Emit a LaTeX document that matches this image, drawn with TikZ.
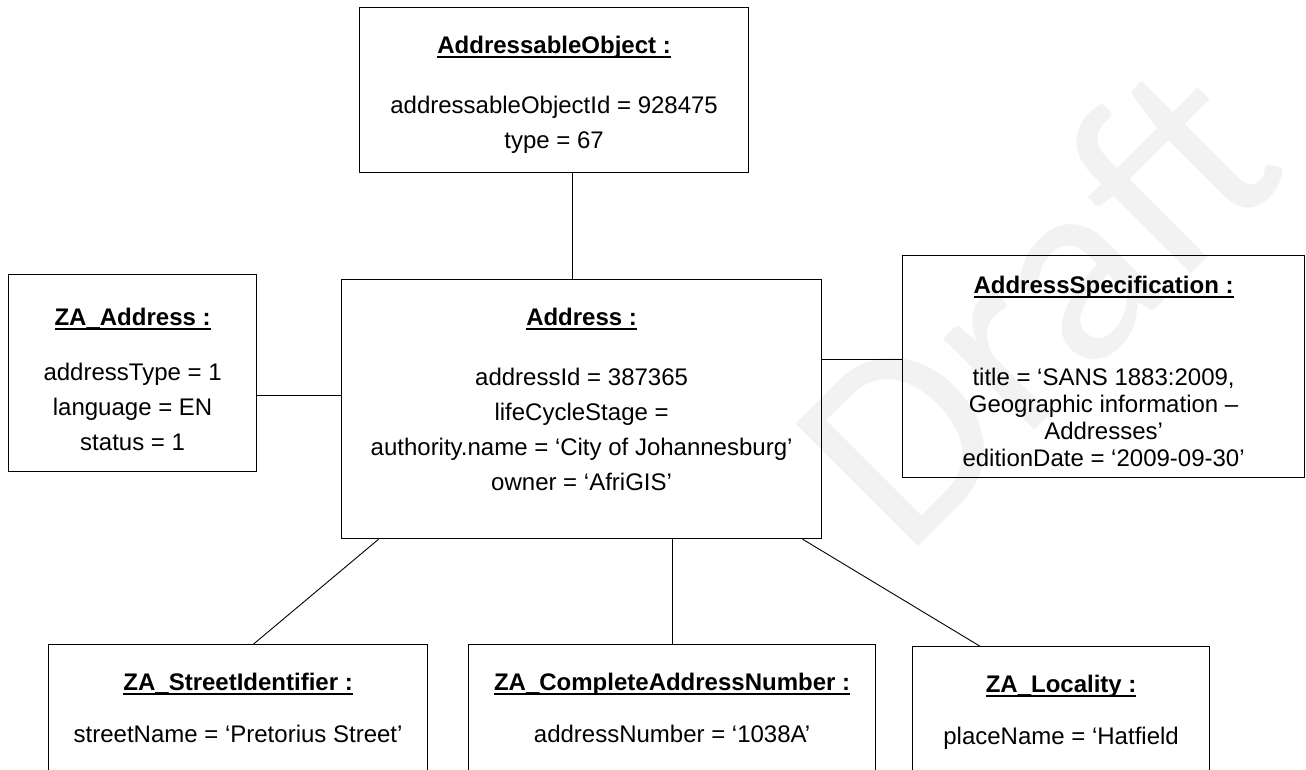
\documentclass[tikz,border=0pt]{standalone}
\usepackage{fontspec}
\setmainfont{Liberation Sans}
\newfontfamily\draftfont{Carlito}
\usepackage{tikz}
\usetikzlibrary{positioning, calc}

% bold object name, underlined at a fixed depth
\newcommand{\objtitle}[1]{%
  \setbox0\hbox{\bfseries #1}%
  \rlap{\vrule width\wd0 height -3.4pt depth 5.0pt}\box0}

\tikzset{
  objbox/.style={draw=black, line width=1.2pt, rectangle, inner sep=0pt, anchor=north west},
  objtext/.style={inner sep=0pt, anchor=base, font=\fontsize{24}{35}\selectfont},
  link/.style={draw=black, line width=0.9pt},
  watermark/.style={text=gray!10, font=\draftfont\fontsize{270}{270}\selectfont, inner sep=0pt}
}

\begin{document}
\begin{tikzpicture}[x=1pt, y=-1pt]
    \path[use as bounding box, fill=white] (0,0) rectangle (1306,769);

    % Watermark
    \node[watermark, rotate=45, anchor=base west] (draft) at (905,560) {Draft};

    % AddressableObject
    \node[objbox, minimum width=389pt, minimum height=165pt] (aobj) at (359,7) {};
    \node[objtext, yshift=-46pt] (aobjtext) at (aobj.north) {
      \begin{tabular}[t]{c}
        \objtitle{AddressableObject :}\\[25pt]
        addressableObjectId = 928475\\
        type = 67
      \end{tabular}
    };

    % Address
    \node[objbox, minimum width=480pt, minimum height=259pt] (addr) at (341,279) {};
    \node[objtext, yshift=-46pt] (addrtext) at (addr.north) {
      \begin{tabular}[t]{c}
        \objtitle{Address :}\\[25pt]
        addressId = 387365\\
        lifeCycleStage =\\
        authority.name = `City of Johannesburg'\\
        owner = `AfriGIS'
      \end{tabular}
    };

    % ZA_Address
    \node[objbox, minimum width=248pt, minimum height=197pt] (zaaddr) at (8,274) {};
    \node[objtext, yshift=-51pt] (zaaddrtext) at (zaaddr.north) {
      \begin{tabular}[t]{c}
        \objtitle{ZA\_Address :}\\[20pt]
        addressType = 1\\
        language = EN\\
        status = 1
      \end{tabular}
    };

    % AddressSpecification
    \node[objbox, minimum width=402pt, minimum height=222pt] (spec) at (902,255) {};
    \node[objtext, yshift=-38pt, font=\fontsize{24}{27}\selectfont] (spectext) at (spec.north) {
      \begin{tabular}[t]{c}
        \objtitle{AddressSpecification :}\\[65pt]
        title = `SANS 1883:2009,\\
        Geographic information --\\
        Addresses'\\
        editionDate = `2009-09-30'
      \end{tabular}
    };

    % ZA_StreetIdentifier
    \node[objbox, minimum width=379pt, minimum height=200pt] (street) at (48,644) {};
    \node[objtext, yshift=-46pt] (streettext) at (street.north) {
      \begin{tabular}[t]{c}
        \objtitle{ZA\_StreetIdentifier :}\\[17pt]
        streetName = `Pretorius Street'
      \end{tabular}
    };

    % ZA_CompleteAddressNumber
    \node[objbox, minimum width=407pt, minimum height=200pt] (cnum) at (468,644) {};
    \node[objtext, yshift=-46pt] (cnumtext) at (cnum.north) {
      \begin{tabular}[t]{c}
        \objtitle{ZA\_CompleteAddressNumber :}\\[17pt]
        addressNumber = `1038A'
      \end{tabular}
    };

    % ZA_Locality
    \node[objbox, minimum width=297pt, minimum height=200pt] (loc) at (912,646) {};
    \node[objtext, yshift=-46pt] (loctext) at (loc.north) {
      \begin{tabular}[t]{c}
        \objtitle{ZA\_Locality :}\\[17pt]
        placeName = `Hatfield
      \end{tabular}
    };

    \draw[link] ([xshift=18.5pt]aobj.south) -- ([xshift=18.5pt]aobj.south |- addr.north);
    \draw[link] ([yshift=-22.5pt]zaaddr.east) -- ([yshift=-22.5pt]zaaddr.east -| addr.west);
    \draw[link] ([yshift=7pt]spec.west) -- ([yshift=7pt]spec.west -| addr.east);
    \draw[link] ([xshift=-203pt]addr.south) -- ([xshift=15.5pt]street.north);
    \draw[link] (cnum.north |- addr.south) -- (cnum.north);
    \draw[link] ([xshift=221pt]addr.south) -- ([xshift=-81.5pt]loc.north);
  \end{tikzpicture}
\end{document}
